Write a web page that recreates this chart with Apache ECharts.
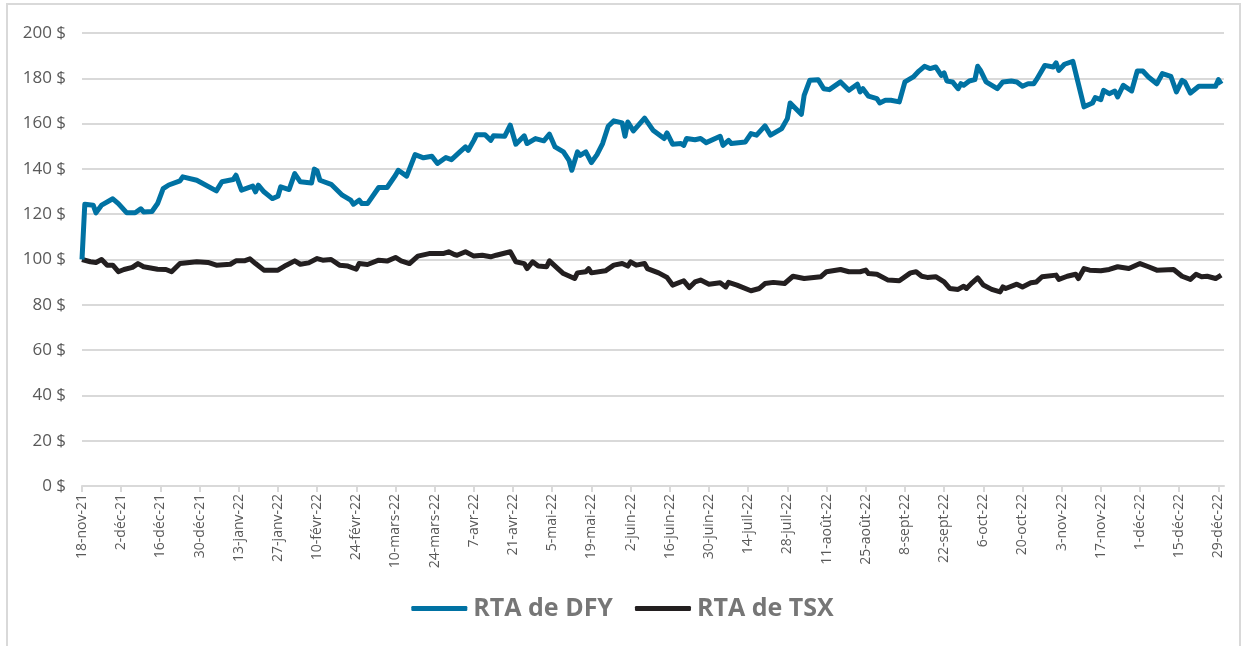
<!DOCTYPE html>
<html>
<head>
<meta charset="utf-8">
<script src="https://cdn.jsdelivr.net/npm/echarts@6/dist/echarts.min.js"></script>
<style>
html,body{margin:0;padding:0;background:#fff;}
#chart{width:1245px;height:646px;}
</style>
</head>
<body>
<div id="chart"></div>
<script>
// Day offsets are counted in calendar days from 18-nov-2021
var tickLabels = ['18-nov-21','2-déc-21','16-déc-21','30-déc-21','13-janv-22','27-janv-22','10-févr-22','24-févr-22','10-mars-22','24-mars-22','7-avr-22','21-avr-22','5-mai-22','19-mai-22','2-juin-22','16-juin-22','30-juin-22','14-juil-22','28-juil-22','11-août-22','25-août-22','8-sept-22','22-sept-22','6-oct-22','20-oct-22','3-nov-22','17-nov-22','1-déc-22','15-déc-22','29-déc-22'];
var seriesNames = ['RTA de DFY', 'RTA de TSX'];

var dfyDays = [0,1,4,5,7,11,13,16,19,21,22,25,27,29,31,35,36,41,48,50,54,55,57,61,62,63,65,68,70,71,74,76,78,82,83,84,85,89,93,96,97,99,100,102,106,109,112,113,116,119,122,125,127,130,132,135,137,138,140,141,144,146,147,151,153,155,158,159,162,165,167,169,172,174,175,177,178,180,182,184,186,188,190,193,194,195,197,201,204,208,209,211,214,215,216,219,221,223,228,229,231,232,237,239,241,244,246,250,252,253,257,258,260,263,265,267,271,274,277,278,279,281,284,285,287,289,292,294,297,299,301,303,305,307,308,309,311,313,314,315,317,319,320,321,323,327,329,332,334,336,338,340,341,344,347,348,349,351,354,358,361,362,364,365,367,369,370,372,375,377,379,381,384,386,389,391,393,394,396,399,405,406,407];
var dfyVals = [100,124.4,124,120.6,124,126.8,124.7,120.6,120.6,122.4,121,121.2,124.7,131.3,132.9,134.7,136.5,135,130.3,134.3,135.3,137.2,130.6,132.4,129.9,132.8,129.9,126.9,127.9,132.1,130.9,137.9,134.3,133.8,139.9,139.1,135,133.2,128.4,126.2,124.4,126.2,124.7,124.7,131.8,131.8,137.2,139.4,136.8,146.3,144.9,145.6,142.4,145,144.1,147.5,149.7,148.2,152.6,155.1,155.1,152.6,154.6,154.4,159.3,150.9,154.6,151.2,153.4,152.4,155.3,149.7,147.5,143.8,139.4,147.5,146,147.5,142.8,146.3,151.2,158.8,161.2,160.3,154.4,160.7,156.8,162.4,157.1,153.4,155.9,150.9,151.2,150.4,153.4,152.9,153.4,151.6,154.4,150.4,152.6,151.2,151.9,155.6,154.9,159,154.9,157.8,162.2,169.1,164.1,172.5,179.1,179.4,175.4,175,178.4,174.7,177.4,174,175.4,172.1,171,169.1,170.3,170.3,169.6,178.4,180.6,183.2,185.3,184.3,185,181.3,182.4,178.8,178.4,175.4,177.6,176.9,178.8,179.4,185.3,183.5,178.4,175.4,178.4,178.8,178.4,176.5,177.6,177.6,179.4,185.7,185,186.8,183.5,186.2,187.5,167.4,169.1,171.5,170.6,174.7,173.2,174.4,171.8,176.9,174.4,183.2,183.2,180.6,177.6,182.1,180.9,174,179.1,178.4,173.5,176.5,176.5,179.4,177.4];

var tsxDays = [0,3,5,7,9,11,13,15,18,20,22,27,30,32,35,41,45,48,53,55,58,60,62,65,70,73,76,78,81,84,86,89,92,95,98,99,102,106,109,112,114,117,120,124,129,131,133,134,137,140,143,146,148,153,155,158,159,161,163,166,167,170,172,176,177,180,181,182,187,190,193,195,196,198,201,202,206,209,211,215,217,219,221,224,228,230,231,234,239,242,244,247,251,254,258,264,266,271,274,278,280,281,284,288,292,296,298,300,302,305,308,310,313,315,316,318,320,322,325,328,329,330,334,336,339,341,343,348,349,352,355,356,358,360,364,367,370,374,378,381,384,390,393,396,398,400,402,405,407];
var tsxVals = [100,99,98.7,100,97.5,97.5,94.6,95.6,96.5,98.2,96.8,95.7,95.6,94.6,98.2,99,98.7,97.5,97.9,99.4,99.4,100.3,98.2,95.3,95.3,97.5,99.4,97.9,98.5,100.4,99.7,100,97.5,97.1,95.7,98.2,97.8,99.7,99.3,100.9,99.4,98.2,101.5,102.6,102.6,103.4,102.2,101.9,103.4,101.5,101.9,101.2,101.9,103.4,99,98.2,96,99,97.1,96.8,99.4,96,93.8,91.6,94.1,94.6,96,94.1,95,97.5,98.2,97.1,99,97.5,98.2,96,94.1,92.1,88.7,90.6,87.6,90.1,90.9,89.1,89.7,87.9,89.9,88.7,86.2,87.2,89.4,89.9,89.4,92.6,91.6,92.4,94.6,95.6,94.6,94.6,95.3,93.8,93.5,90.9,90.6,94.1,94.6,92.6,92.1,92.4,90.1,87.2,86.8,88.2,87.2,89.7,91.9,88.7,86.8,85.7,87.9,87.2,89.1,87.9,89.7,90.1,92.4,93.1,91.2,92.6,93.5,91.6,96,95.3,95,95.6,96.8,96,98.2,96.8,95.3,95.6,92.6,91.2,93.5,92.4,92.6,91.6,93.1];

function pairs(days, vals) {
  return days.map(function (d, i) { return [d, vals[i]]; });
}
var tickValues = tickLabels.map(function (_, i) { return i * 14; });

var chart = echarts.init(document.getElementById('chart'));
var gray = '#d9d9d9';
var textGray = '#595959';
var fontFam = '"Open Sans", Lato, sans-serif';

chart.setOption({
  animation: false,
  backgroundColor: '#ffffff',
  graphic: [{
    type: 'rect',
    shape: { x: 7, y: 4, width: 1233, height: 660 },
    style: { fill: 'none', stroke: gray, lineWidth: 2 },
    z: -1
  }],
  grid: { left: 82, right: 21, top: 33, bottom: 160, containLabel: false },
  legend: {
    bottom: 20,
    left: 'center',
    itemWidth: 56,
    itemHeight: 5,
    itemGap: 22,
    icon: 'roundRect',
    textStyle: { fontSize: 25, fontWeight: 'bold', color: '#767676', fontFamily: fontFam, padding: [0, 0, 0, 1] },
    data: seriesNames
  },
  xAxis: {
    type: 'value',
    min: 0,
    max: 408,
    axisLine: { show: true, lineStyle: { color: gray, width: 2 } },
    axisTick: { show: true, length: 6, lineStyle: { color: gray, width: 2 }, customValues: tickValues },
    axisLabel: {
      rotate: 90,
      margin: 8,
      fontSize: 14,
      color: textGray,
      fontFamily: fontFam,
      customValues: tickValues,
      formatter: function (v) { return tickLabels[Math.round(v / 14)] || ''; }
    },
    splitLine: { show: false }
  },
  yAxis: {
    type: 'value',
    min: 0,
    max: 200,
    interval: 20,
    axisLine: { show: false },
    axisTick: { show: false },
    axisLabel: {
      margin: 16,
      fontSize: 17,
      color: textGray,
      fontFamily: fontFam,
      formatter: function (v) { return v + ' $'; }
    },
    splitLine: { lineStyle: { color: gray, width: 2 } }
  },
  series: [{
    name: seriesNames[0],
    type: 'line',
    data: pairs(dfyDays, dfyVals),
    showSymbol: false,
    symbol: 'none',
    lineStyle: { color: '#0072a3', width: 5, join: 'round' },
    itemStyle: { color: '#0072a3' },
    z: 3
  }, {
    name: seriesNames[1],
    type: 'line',
    data: pairs(tsxDays, tsxVals),
    showSymbol: false,
    symbol: 'none',
    lineStyle: { color: '#231f20', width: 5, join: 'round' },
    itemStyle: { color: '#231f20' },
    z: 2
  }]
});
</script>
</body>
</html>
